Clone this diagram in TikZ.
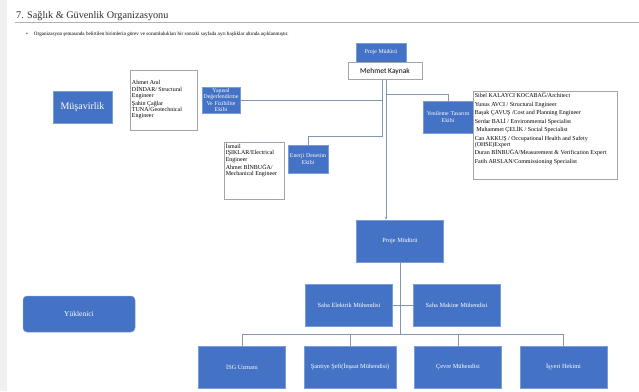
\documentclass[tikz,border=0pt]{standalone}
\usepackage{fontspec}
\setmainfont{Liberation Serif}
\newfontfamily\calibri{Carlito}
\usepackage{tikz}
\usetikzlibrary{arrows.meta, positioning}
\definecolor{maviKutu}{RGB}{68,114,196}
\definecolor{hatGri}{RGB}{132,150,175}
\definecolor{cerceveGri}{RGB}{160,166,175}
\definecolor{baslikGri}{RGB}{45,45,45}

\begin{document}
\begin{tikzpicture}[
  x=1pt, y=-1pt,
  node distance=18pt,
  kutu/.style={rectangle, fill=maviKutu, draw=maviKutu!70!white, line width=0.5pt,
               text=white, align=center, inner sep=0pt},
  altkutu/.style={kutu, minimum width=87pt, minimum height=42pt,
                  font=\fontsize{6.3}{7.5}\selectfont},
  ekip/.style={kutu, font=\fontsize{5.8}{6.5}\selectfont},
  liste/.style={rectangle, draw=cerceveGri, fill=white, line width=0.6pt,
                inner sep=1.5pt, font=\fontsize{6}{6.2}\selectfont},
  hat/.style={draw=hatGri, line width=0.6pt},
  ok/.style={hat, -{Stealth[length=3pt, width=2.5pt]}}
]
\useasboundingbox (0,0) rectangle (639,391);
\fill[white] (0,0) rectangle (639,391);
\fill[gray!12] (0,0) rectangle (7,391);

% Baslik
\node[anchor=base west, inner sep=0pt, text=baslikGri,
      font=\fontsize{10.2}{12}\selectfont] (baslik) at (16,18)
      {7. Sağlık \& Güvenlik Organizasyonu};
\draw[gray!60, line width=0.7pt] (15,22) -- (639,22);
\node[anchor=base west, inner sep=0pt, font=\fontsize{5.1}{5.5}\selectfont] (aciklama) at (26,35)
      {\textbullet\hspace{6pt}Organizasyon şemasında belirtilen birimlerin görev ve sorumlulukları bir sonraki sayfada ayrı başlıklar altında açıklanmıştır.};

% Musavirlik tarafi
\node[ekip, minimum width=50pt, minimum height=19pt] (pm1) at (381,52.5) {Proje Müdürü};
\node[liste, below=0pt of pm1, xshift=4pt, minimum width=74pt, minimum height=17pt,
      font=\calibri\fontsize{7.5}{8}\selectfont] (mk) {Mehmet Kaynak};
\coordinate (mkSol) at ([xshift=-3pt]mk.south);
\coordinate (mkSag) at ([xshift=1pt]mk.south);

\node[kutu, minimum width=59pt, minimum height=32pt, font=\fontsize{10}{12}\selectfont]
      (musavir) at (82.5,107) {Müşavirlik};

\node[ekip, minimum width=38pt, minimum height=26pt, text width=38pt] (yapisal) at (221,100)
      {Yapısal\\Değerlendirme\\Ve Fizibilite\\Ekibi};
\node[liste, left=4pt of yapisal] (ahmet)
      {\parbox[c][57pt][c]{64pt}{\raggedright Ahmet Anıl\\DİNDAR/ Structural\\Engineer\\[2pt]Şahin Çağlar\\TUNA/Geotechnical\\Engineer}};

\node[ekip, minimum width=40pt, minimum height=28pt, text width=40pt] (enerji) at (308,159)
      {Enerji Denetim\\Ekibi};
\node[liste, anchor=north west] (ismail) at (224,142)
      {\parbox[c][54pt][t]{57pt}{\raggedright İsmail\\IŞIKLAR/Electrical\\Engineer\\[1pt]Ahmet BİNBUĞA/\\Mechanical Engineer}};

\node[ekip, minimum width=50pt, minimum height=32pt, text width=50pt] (yenileme) at (448,117)
      {Yenileme Tasarım\\Ekibi};
\node[liste, anchor=north west, font=\fontsize{6}{8.5}\selectfont] (liste) at (473,91)
      {\parbox[c][85pt][t]{141pt}{\raggedright Sibel KALAYCI KOCABAĞ/Architect\\
       Yunus AVCI / Structural Engineer\\
       Başak ÇAVUŞ /Cost and Planning Engineer\\
       Serdar BALİ / Environmental Specialist\\
       \ Muhammet ÇELİK / Social Specialist\\
       Can AKKUŞ / Occupational Health and Safety\\[-2.5pt]
       (OHSE)Expert\\
       Duran BİNBUĞA/Measurement \& Verification Expert\\
       Fatih ARSLAN/Commissioning Specialist}};

% Yuklenici tarafi
\node[kutu, rounded corners=4pt, minimum width=112pt, minimum height=36pt,
      font=\fontsize{7.5}{9}\selectfont] (yuklenici) at (79,314) {Yüklenici};

\node[altkutu] (pm2) at (400,241) {Proje Müdürü};
\node[altkutu] (elektrik) at (349,305) {Saha Elektrik Mühendisi};
\node[altkutu, right=20pt of elektrik] (makine) {Saha Makine Mühendisi};

\node[altkutu] (isg) at (242,367) {İSG Uzmanı};
\node[altkutu, minimum width=92pt, right=18pt of isg] (santiye) {Şantiye Şefi(İnşaat Mühendisi)};
\node[altkutu, right=18pt of santiye] (cevre) {Çevre Mühendisi};
\node[altkutu, right=18pt of cevre] (hekim) {İşyeri Hekimi};

% Baglantilar
\draw[hat] (mkSol) |- (yapisal.east);
\draw[hat] (mkSol) |- ([yshift=8pt]enerji.north) -- (enerji.north);
\draw[hat] (mkSag) |- ([yshift=6pt]yenileme.north) -- (yenileme.north);
\draw[ok]  (mkSag) -- (mkSag |- pm2.north);

\draw[hat] (elektrik.east) -- (makine.west);
\foreach \alt in {isg,santiye,cevre,hekim}
  \draw[hat] (pm2.south) |- ([yshift=11pt]\alt.north) -- (\alt.north);

\end{tikzpicture}
\end{document}
